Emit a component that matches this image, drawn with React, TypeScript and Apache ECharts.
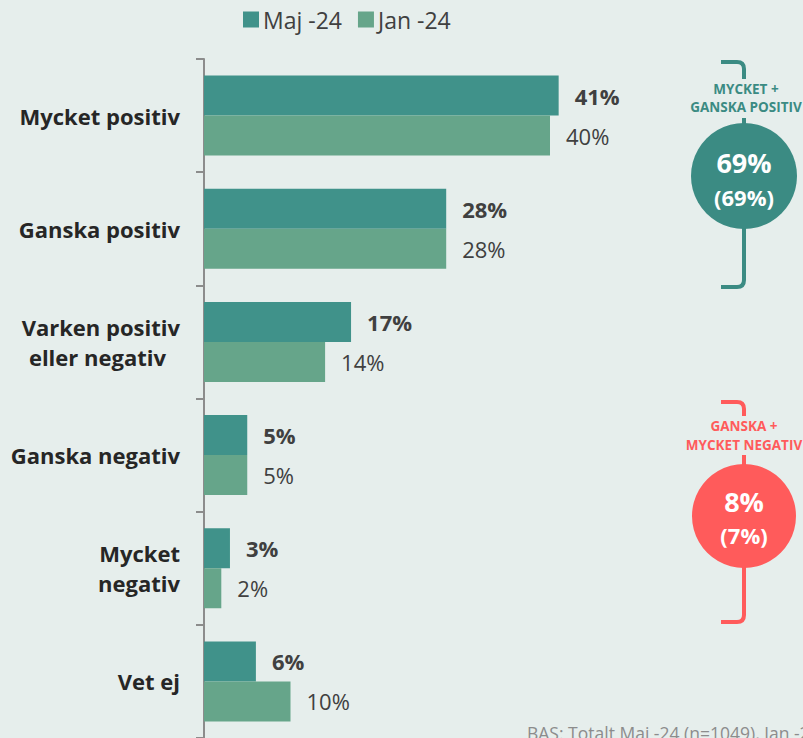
import React, { useEffect, useRef } from 'react';
import * as echarts from 'echarts';

const categories = ['Mycket positiv', 'Ganska positiv', 'Varken positiv\n{b|eller negativ}', 'Ganska negativ', 'Mycket\nnegativ', 'Vet ej'];
const seriesNames = ['Maj -24', 'Jan -24'];
const maj = [41, 28, 17, 5, 3, 6];
const jan = [40, 28, 14, 5, 2, 10];
const posTitle = ['MYCKET +', 'GANSKA POSITIV'];
const posValues = ['69%', '(69%)'];
const negTitle = ['GANSKA +', 'MYCKET NEGATIV'];
const negValues = ['8%', '(7%)'];
const footnote = 'BAS: Totalt Maj -24 (n=1049), Jan -24';

const TEAL = '#3b8b83';
const RED = '#ff5b5b';
const FONT = 'Open Sans';

echarts.graphic.registerShape(
  'bracketPos',
  echarts.graphic.extendPath(
    'M721 62 L737 62 Q744 62 744 69 L744 79 M744 118 L744 130 M744 225 L744 280 Q744 287 737 287 L721 287',
    {}
  )
);
echarts.graphic.registerShape(
  'bracketNeg',
  echarts.graphic.extendPath(
    'M721 402 L737 402 Q744 402 744 409 L744 416 M744 455 L744 470 M744 560 L744 615 Q744 622 737 622 L721 622',
    {}
  )
);

export default function App() {
  const ref = useRef<HTMLDivElement>(null);
  useEffect(() => {
    if (!ref.current) return;
    const chart = echarts.init(ref.current, undefined, { renderer: 'svg' });
    chart.setOption({
      animation: false,
      backgroundColor: '#e6eeec',
      textStyle: { fontFamily: FONT },
      legend: {
        data: seriesNames,
        left: 238,
        top: 3,
        icon: 'rect',
        itemWidth: 16,
        itemHeight: 16,
        itemGap: 16,
        textStyle: { fontSize: 23, color: '#404040', fontFamily: FONT, padding: [0, 0, 0, -1] },
      },
      grid: { left: 204, top: 59, width: 519, height: 681.6, containLabel: false },
      xAxis: { type: 'value', min: 0, max: 60, show: false },
      yAxis: {
        type: 'category',
        inverse: true,
        data: categories,
        axisLine: { show: true, lineStyle: { color: '#8c8c8c', width: 2 } },
        axisTick: { show: true, length: 8, lineStyle: { color: '#8c8c8c', width: 2 } },
        axisLabel: {
          margin: 24,
          fontSize: 22,
          fontWeight: 'bold',
          color: '#262626',
          fontFamily: FONT,
          lineHeight: 30,
          align: 'right',
          rich: {
            b: { fontSize: 22, fontWeight: 'bold', color: '#262626', fontFamily: FONT, padding: [0, 14, 0, 0], lineHeight: 30 },
          },
        },
      },
      series: [
        {
          name: seriesNames[0],
          type: 'bar',
          data: maj,
          barWidth: 40,
          barGap: '0%',
          itemStyle: { color: '#40928a' },
          label: {
            show: true,
            position: 'right',
            distance: 16,
            formatter: '{c}%',
            fontSize: 22,
            fontWeight: 'bold',
            color: '#404040',
            fontFamily: FONT,
          },
        },
        {
          name: seriesNames[1],
          type: 'bar',
          data: jan,
          barWidth: 40,
          itemStyle: { color: '#66a58a' },
          label: {
            show: true,
            position: 'right',
            distance: 16,
            formatter: '{c}%',
            fontSize: 22,
            color: '#404040',
            fontFamily: FONT,
          },
        },
      ],
      graphic: [
        { type: 'bracketPos', x: 0, y: 0, style: { stroke: TEAL, lineWidth: 4, fill: null } },
        { type: 'bracketNeg', x: 0, y: 0, style: { stroke: RED, lineWidth: 4, fill: null } },
        { type: 'circle', shape: { cx: 744, cy: 176, r: 53 }, style: { fill: TEAL } },
        { type: 'circle', shape: { cx: 744, cy: 516, r: 52 }, style: { fill: RED } },
        { type: 'text', x: 746, y: 89, style: { text: posTitle[0], fill: TEAL, font: `bold 13.5px ${FONT}`, align: 'center', verticalAlign: 'middle' } },
        { type: 'text', x: 746, y: 107, style: { text: posTitle[1], fill: TEAL, font: `bold 13.5px ${FONT}`, align: 'center', verticalAlign: 'middle' } },
        { type: 'text', x: 744, y: 162, style: { text: posValues[0], fill: '#ffffff', font: `bold 27px ${FONT}`, align: 'center', verticalAlign: 'middle' } },
        { type: 'text', x: 744, y: 197, style: { text: posValues[1], fill: '#ffffff', font: `bold 22px ${FONT}`, align: 'center', verticalAlign: 'middle' } },
        { type: 'text', x: 744, y: 426, style: { text: negTitle[0], fill: RED, font: `bold 13.5px ${FONT}`, align: 'center', verticalAlign: 'middle' } },
        { type: 'text', x: 744, y: 445, style: { text: negTitle[1], fill: RED, font: `bold 13.5px ${FONT}`, align: 'center', verticalAlign: 'middle' } },
        { type: 'text', x: 744, y: 501, style: { text: negValues[0], fill: '#ffffff', font: `bold 27px ${FONT}`, align: 'center', verticalAlign: 'middle' } },
        { type: 'text', x: 744, y: 535, style: { text: negValues[1], fill: '#ffffff', font: `bold 22px ${FONT}`, align: 'center', verticalAlign: 'middle' } },
        { type: 'text', x: 527, y: 724, style: { text: footnote, fill: '#8c8c8c', font: `17.5px ${FONT}`, align: 'left', verticalAlign: 'top' } },
      ],
    });
    return () => chart.dispose();
  }, []);
  return <div ref={ref} style={{ position: 'fixed', left: 0, top: 0, width: 803, height: 738 }} />;
}
